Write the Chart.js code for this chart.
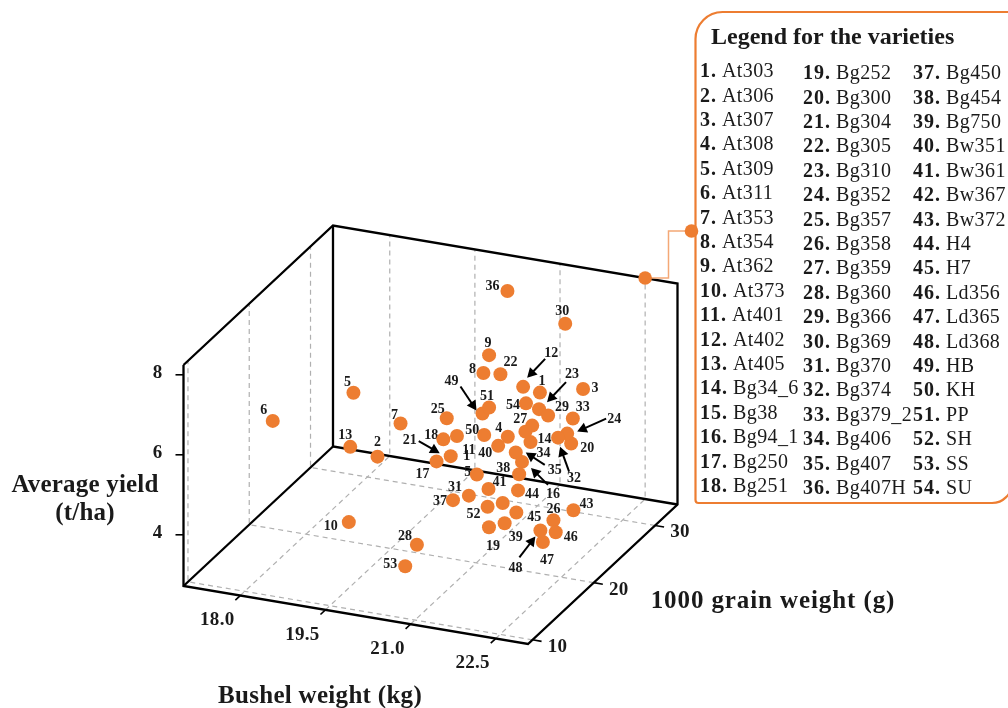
<!DOCTYPE html>
<html>
<head>
<meta charset="utf-8">
<title>Yield by bushel and grain weight</title>
<script src="https://cdn.jsdelivr.net/npm/chart.js@4/dist/chart.umd.min.js"></script>
<style>
	html, body { margin: 0; padding: 0; background: #fff; overflow: hidden; }
	canvas { display: block; }
</style>
</head>
<body>
<canvas id="chart" width="1008" height="708"></canvas>
<script>
// variety names, index + 1 is the number shown next to each dot
const varieties = [
	"At303", "At306", "At307", "At308", "At309", "At311", "At353", "At354", "At362",
	"At373", "At401", "At402", "At405", "Bg34_6", "Bg38", "Bg94_1", "Bg250", "Bg251",
	"Bg252", "Bg300", "Bg304", "Bg305", "Bg310", "Bg352", "Bg357", "Bg358", "Bg359",
	"Bg360", "Bg366", "Bg369", "Bg370", "Bg374", "Bg379_2", "Bg406", "Bg407", "Bg407H",
	"Bg450", "Bg454", "Bg750", "Bw351", "Bw361", "Bw367", "Bw372", "H4", "H7",
	"Ld356", "Ld365", "Ld368", "HB", "KH", "PP", "SH", "SS", "SU"
];

// values, one per variety
const bushelWeight = [
	21.69, 19.26, 22.45, 21.34, 18.62, 17.63, 19.45, 20.91, 21.01,
	18.97, 20.66, 21.61, 18.78, 21.74, 21.01, 21.59, 20.30, 20.42,
	21.44, 22.24, 20.55, 21.21, 21.89, 22.17, 20.48, 22.36, 21.77,
	20.17, 22.05, 21.92, 20.87, 22.01, 22.27, 21.65, 21.48, 20.47,
	20.59, 21.54, 21.50, 21.17, 21.00, 21.25, 22.28, 21.52, 21.49,
	22.40, 22.39, 22.13, 21.11, 21.14, 21.01, 21.20, 20.18, 21.66
];
const grainWeight = [
	24, 20, 24, 22, 22, 18, 22, 22, 22,
	18, 20, 22, 20, 22, 20, 22, 20, 20,
	18, 24, 20, 22, 22, 24, 20, 20, 22,
	18, 22, 26, 20, 24, 24, 22, 22, 30,
	20, 22, 20, 22, 22, 22, 24, 22, 22,
	20, 18, 20, 20, 20, 22, 20, 16, 22
];
const avgYield = [
	6.57, 4.96, 6.84, 5.67, 6.12, 5.75, 5.55, 7.16, 7.63,
	3.54, 5.81, 6.98, 5.09, 5.63, 4.93, 5.10, 5.09, 5.67,
	4.00, 5.43, 5.28, 7.20, 6.49, 5.66, 6.21, 4.11, 6.05,
	3.26, 6.37, 8.06, 4.37, 5.52, 6.06, 5.87, 5.31, 7.96,
	4.19, 4.78, 3.83, 5.40, 4.28, 3.99, 3.77, 4.37, 3.81,
	3.82, 3.86, 3.80, 6.48, 5.95, 6.32, 4.17, 3.01, 6.58
];

const bushelTicks = ["18.0", "19.5", "21.0", "22.5"];
const grainTicks = ["10", "20", "30"];
const yieldTicks = ["4", "6", "8"];

const bushelRange = [17, 23.07];
const grainRange = [9.27, 33.67];
const yieldRange = [2.72, 8.245];

const ORANGE = "#ED7D31";
const SERIF = "'Liberation Serif', serif";

// the box is a parallelogram projection, no perspective
function project(b, g, y) {
	const u = (b - bushelRange[0]) / (bushelRange[1] - bushelRange[0]);
	const v = (g - grainRange[0]) / (grainRange[1] - grainRange[0]);
	const w = (y - yieldRange[0]) / (yieldRange[1] - yieldRange[0]);
	return { x: 183.5 + 344.5 * u + 149.5 * v, y: 586 + 58 * u - 139.5 * v - 221 * w };
}

const [bMin, bMax] = bushelRange;
const [gMin, gMax] = grainRange;
const [yMin, yMax] = yieldRange;

// label position relative to its dot, in px
const labelOffsets = {
	1: [2, -12], 2: [0, -15], 3: [12, -2], 4: [-9, -9], 5: [-6, -11], 6: [-9, -12], 7: [-6, -9],
	8: [-11, -5], 9: [-1, -13], 10: [-18, 3], 11: [12, 13], 12: [28, -34], 13: [-5, -12],
	14: [14, -4], 16: [31, 32], 17: [-14, 12.5], 18: [-12, -5], 19: [4, 18], 20: [16, 4],
	21: [-41, -17], 22: [10, -13], 23: [33, -36], 24: [47, -15], 25: [-9, -10], 26: [0, -12],
	27: [-12, -7], 28: [-12, -9], 29: [14, -9], 30: [-3, -13], 31: [-14, -9], 32: [16, 40],
	33: [10, -12], 34: [18, 21], 35: [39, 17], 36: [-15, -6], 37: [-13, 0], 38: [-16, -7],
	39: [11, 13], 40: [-13, 7], 41: [11, -8], 43: [13, -7], 44: [14, 3], 45: [18, 4],
	46: [15, 4], 47: [4, 17], 48: [-25, 37], 49: [-31, -33], 50: [-12, -6], 51: [-2, -12],
	52: [-14, 7], 53: [-15, -3], 54: [-13, 1]
};
// 15 is split over two lines in the reference
const splitLabel15 = [["1", -10, -19], ["5", -9, -3]];

// arrows: variety number, start dx/dy, tip dx/dy from its dot
const arrows = [
	[12, 22, -28, 4, -9], [16, 26, 23, 9, 6], [21, -32, -15, -11, -3], [23, 27, -27, 8, -7],
	[24, 39, -15, 10, -2], [32, 11, 34, 2, 9], [35, 29, 12.5, 10, 0], [48, -21, 27, -5, 6],
	[49, -22, -27, -6, -3]
];

function line(points, color, width, dash) {
	return {
		type: "scatter", showLine: true, data: points, borderColor: color, borderWidth: width,
		borderDash: dash || [], pointRadius: 0, fill: false, order: dash ? 3 : 2
	};
}

const datasets = [];

// dashed grid on floor and the two walls
bushelTicks.map(Number).forEach(b => {
	datasets.push(line([project(b, gMin, yMin), project(b, gMax, yMin), project(b, gMax, yMax)], "#B0B0B0", 1.2, [5, 4]));
});
grainTicks.map(Number).forEach(g => {
	datasets.push(line([project(bMax, g, yMin), project(bMin, g, yMin), project(bMin, g, yMax)], "#B0B0B0", 1.2, [5, 4]));
});

// box edges
[
	[[bMin, gMin, yMax], [bMin, gMin, yMin], [bMax, gMin, yMin], [bMax, gMax, yMin], [bMax, gMax, yMax], [bMin, gMax, yMax], [bMin, gMin, yMax]],
	[[bMin, gMax, yMax], [bMin, gMax, yMin], [bMax, gMax, yMin]],
	[[bMin, gMin, yMin], [bMin, gMax, yMin]]
].forEach(edge => {
	datasets.push(line(edge.map(c => project(c[0], c[1], c[2])), "#000", 2.3));
});

// tick marks
bushelTicks.map(Number).forEach(b => {
	datasets.push(line([project(b, gMin, yMin), project(b, gMin - 0.8, yMin)], "#000", 1.6));
});
grainTicks.map(Number).forEach(g => {
	datasets.push(line([project(bMax, g, yMin), project(bMax + 0.16, g, yMin)], "#000", 1.6));
});
yieldTicks.map(Number).forEach(y => {
	const p = project(bMin, gMin, y);
	datasets.push(line([p, { x: p.x - 8, y: p.y }], "#000", 1.6));
});

// the varieties
datasets.push({
	type: "scatter",
	data: varieties.map((name, i) => project(bushelWeight[i], grainWeight[i], avgYield[i])),
	backgroundColor: ORANGE,
	borderWidth: 0,
	pointRadius: 7,
	order: 1
});
const dotsIndex = datasets.length - 1;

function text(ctx, str, x, y, font, align, spacing) {
	ctx.font = font;
	ctx.letterSpacing = (spacing || 0) + "px";
	ctx.textAlign = align || "center";
	ctx.textBaseline = "middle";
	ctx.fillStyle = "#1a1a1a";
	ctx.fillText(str, x, y);
}

// numbers sit under the dots, the same as the reference
const dotLabels = {
	id: "dotLabels",
	beforeDatasetDraw(chart, args) {
		if (args.index !== dotsIndex) return;
		const ctx = chart.ctx;
		const pts = chart.getDatasetMeta(dotsIndex).data;
		const font = "bold 14px " + SERIF;
		Object.keys(labelOffsets).forEach(k => {
			const p = pts[k - 1];
			text(ctx, k, p.x + labelOffsets[k][0], p.y + labelOffsets[k][1] + 1, font);
		});
		splitLabel15.forEach(s => text(ctx, s[0], pts[14].x + s[1], pts[14].y + s[2] + 1, font));
	}
};

const annotations = {
	id: "annotations",
	afterDatasetsDraw(chart) {
		const ctx = chart.ctx;
		const pts = chart.getDatasetMeta(dotsIndex).data;

		// arrows
		arrows.forEach(a => {
			const p = pts[a[0] - 1];
			const sx = p.x + a[1], sy = p.y + a[2], tx = p.x + a[3], ty = p.y + a[4];
			const ang = Math.atan2(ty - sy, tx - sx);
			ctx.strokeStyle = "#000";
			ctx.fillStyle = "#000";
			ctx.lineWidth = 2;
			ctx.beginPath();
			ctx.moveTo(sx, sy);
			ctx.lineTo(tx - 6 * Math.cos(ang), ty - 6 * Math.sin(ang));
			ctx.stroke();
			ctx.beginPath();
			ctx.moveTo(tx, ty);
			ctx.lineTo(tx - 11 * Math.cos(ang - 0.5), ty - 11 * Math.sin(ang - 0.5));
			ctx.lineTo(tx - 11 * Math.cos(ang + 0.5), ty - 11 * Math.sin(ang + 0.5));
			ctx.closePath();
			ctx.fill();
		});

		// axis numbers
		const tickFont = "bold 19px " + SERIF;
		bushelTicks.forEach(t => {
			const p = project(Number(t), gMin, yMin);
			text(ctx, t, p.x - 23, p.y + 25, tickFont, "center", 0.3);
		});
		grainTicks.forEach(t => {
			const p = project(bMax, Number(t), yMin);
			text(ctx, t, p.x + 25, p.y + 7, tickFont, "center", 0.3);
		});
		yieldTicks.forEach(t => {
			const p = project(bMin, gMin, Number(t));
			text(ctx, t, p.x - 26, p.y - 2, tickFont);
		});

		// axis titles
		const titleFont = "bold 25px " + SERIF;
		text(ctx, "Average yield", 85, 486, titleFont, "center", 0.2);
		text(ctx, "(t/ha)", 85, 514, titleFont, "center", 0.2);
		text(ctx, "Bushel weight (kg)", 320, 697, titleFont, "center", 0.3);
		text(ctx, "1000 grain weight (g)", 773, 602, titleFont, "center", 0.9);

		// legend box with the leader running to the corner of the back wall
		const anchor = project(22.5, gMax, yMax);
		const kneeX = 668.5, boxY = 231, boxX = 695.5;
		ctx.strokeStyle = "#F4A876";
		ctx.lineWidth = 1.5;
		ctx.beginPath();
		ctx.moveTo(anchor.x, anchor.y);
		ctx.lineTo(kneeX, anchor.y);
		ctx.lineTo(kneeX, boxY);
		ctx.lineTo(boxX, boxY);
		ctx.stroke();

		ctx.fillStyle = "#fff";
		ctx.strokeStyle = ORANGE;
		ctx.lineWidth = 2.2;
		ctx.beginPath();
		ctx.roundRect(boxX, 12, 316.5, 491, [27, 0, 20, 3]);
		ctx.fill();
		ctx.stroke();

		ctx.fillStyle = ORANGE;
		[[anchor.x, anchor.y], [691.5, boxY]].forEach(d => {
			ctx.beginPath();
			ctx.arc(d[0], d[1], 6.8, 0, Math.PI * 2);
			ctx.fill();
		});

		text(ctx, "Legend for the varieties", 711, 38, "bold 24px " + SERIF, "left");
		const numFont = "bold 20px " + SERIF, nameFont = "20px " + SERIF;
		varieties.forEach((name, i) => {
			const col = Math.floor(i / 18), row = i % 18;
			const x = [700, 803, 913][col];
			const y = (col === 0 ? 72 : 74) + row * 24.4;
			const num = (i + 1) + ".";
			text(ctx, num, x, y, numFont, "left", 1);
			const w = ctx.measureText(num).width;
			text(ctx, name, x + w + 5, y, nameFont, "left", 0.4);
		});
		ctx.letterSpacing = "0px";
	}
};

new Chart(document.getElementById("chart").getContext("2d"), {
	type: "scatter",
	data: { datasets: datasets },
	options: {
		responsive: false,
		animation: false,
		events: [],
		layout: { padding: 0, autoPadding: false },
		plugins: { legend: { display: false }, tooltip: { enabled: false } },
		scales: {
			x: { type: "linear", min: 0, max: 1008, display: false },
			y: { type: "linear", min: 0, max: 708, reverse: true, display: false }
		}
	},
	plugins: [dotLabels, annotations]
});
</script>
</body>
</html>
